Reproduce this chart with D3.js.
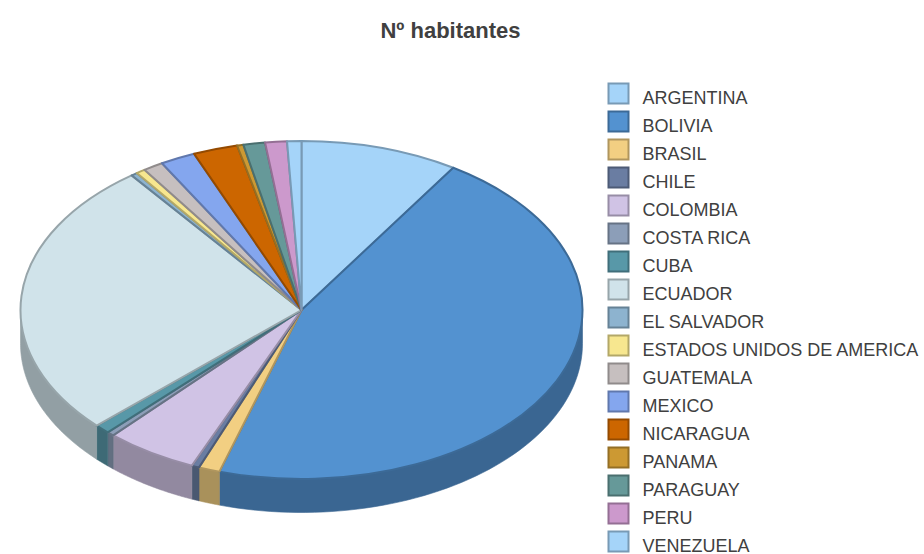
<!DOCTYPE html>
<html><head><meta charset="utf-8">
<script src="https://cdnjs.cloudflare.com/ajax/libs/d3/7.8.5/d3.min.js"></script>
<style>html,body{margin:0;background:#fff}svg{display:block;font-family:"Liberation Sans",Arial,sans-serif}</style>
</head><body><svg id="c" width="924" height="554"></svg>
<script>
const title = "Nº habitantes";
const categories = ["ARGENTINA","BOLIVIA","BRASIL","CHILE","COLOMBIA","COSTA RICA","CUBA","ECUADOR","EL SALVADOR","ESTADOS UNIDOS DE AMERICA","GUATEMALA","MEXICO","NICARAGUA","PANAMA","PARAGUAY","PERU","VENEZUELA"];
const values = [9.08,45.64,1.22,0.44,5.31,0.42,0.89,26.67,0.36,0.53,1.17,2.03,2.56,0.36,1.25,1.25,0.82];
const colors = ["#A5D4F9","#5392D0","#F2CF82","#6A7DA2","#D0C3E5","#8C9EB8","#5898A8","#D0E3EA","#8DB3CF","#F7E78F","#C6BFBF","#84A6EE","#CC6600","#CC9933","#669999","#CC99CC","#A5D4F9"];

const cx = 301.5, cy = 310, rx = 281, ry = 169, depth = 33.5;
const svg = d3.select("#c");
const pie = d3.pie().sort(null).value(d => d.v);
const slices = pie(categories.map((n,i)=>({n,v:values[i],c:colors[i]})));
const dark = (c,k) => d3.rgb(c).darker(k).formatHex();
const px = a => cx + rx*Math.sin(a), py = a => cy - ry*Math.cos(a);
const line = d3.line().x(d=>d[0]).y(d=>d[1]);

// walls: only the front half of the ellipse is visible
const wall = svg.append("g");
slices.forEach(s=>{
  const a0 = Math.max(s.startAngle, Math.PI/2), a1 = Math.min(s.endAngle, Math.PI*1.5);
  if(a1<=a0) return;
  const ts = d3.range(0,61).map(i=>a0+(a1-a0)*i/60);
  const pts = ts.map(a=>[px(a),py(a)]).concat(ts.slice().reverse().map(a=>[px(a),py(a)+depth]));
  const col = dark(s.data.c,1.0);
  wall.append("path").attr("d",line(pts)+"Z").attr("fill",col).attr("stroke",col).attr("stroke-width",.6);
});

// tops: the d3 arc, squashed into an ellipse
const arc = d3.arc().innerRadius(0).outerRadius(rx);
svg.append("g").attr("transform",`translate(${cx},${cy}) scale(1,${ry/rx})`)
  .selectAll("path").data(slices).join("path")
  .attr("d",arc).attr("fill",d=>d.data.c)
  .attr("stroke",d=>dark(d.data.c,.9)).attr("stroke-width",2)
  .attr("stroke-linejoin","round").attr("vector-effect","non-scaling-stroke");

svg.append("text").attr("x",450.5).attr("y",38).attr("text-anchor","middle")
  .attr("font-size",22).attr("font-weight","bold").attr("fill","#404040").text(title);

const rows = d3.scaleBand().domain(categories).range([79,555]).paddingInner(0).paddingOuter(0);
const lg = svg.append("g").selectAll("g").data(slices).join("g")
  .attr("transform",d=>`translate(0,${rows(d.data.n)})`);
lg.append("rect").attr("x",608.5).attr("y",4.5).attr("width",20).attr("height",20)
  .attr("fill",d=>d.data.c).attr("stroke",d=>dark(d.data.c,.9)).attr("stroke-width",2);
lg.append("text").attr("x",642.5).attr("y",25).attr("font-size",18).attr("fill","#404040").text(d=>d.data.n);
</script></body></html>
